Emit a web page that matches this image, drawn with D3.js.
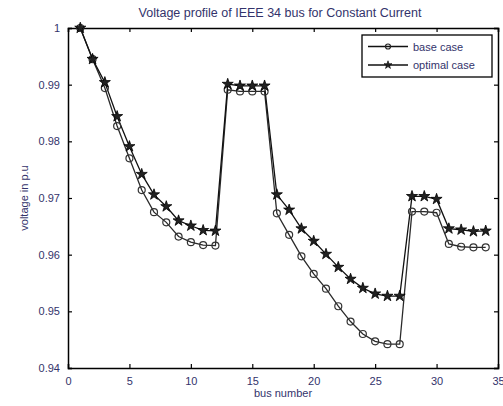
<!DOCTYPE html>
<html>
<head>
<meta charset="utf-8">
<script src="https://cdn.jsdelivr.net/npm/d3@7"></script>
<style>
  html, body { margin: 0; padding: 0; background: #fff; }
  svg { display: block; }
</style>
</head>
<body>
<div id="chart"></div>
<script>
// ---- data ----
const titleText = "Voltage profile of IEEE 34 bus for Constant Current";
const xLabel = "bus number";
const yLabel = "voltage in p.u";
const buses = d3.range(1, 35);
const baseCase = [
  1.0, 0.9945, 0.9894, 0.9827, 0.9770, 0.9714, 0.9675, 0.9657, 0.9632, 0.9622,
  0.9617, 0.9616, 0.9891, 0.9888, 0.9888, 0.9888, 0.9673, 0.9635, 0.9597, 0.9566,
  0.9540, 0.9509, 0.9482, 0.9460, 0.9447, 0.9442, 0.9442, 0.9676, 0.9676, 0.9674,
  0.9619, 0.9614, 0.9613, 0.9613
];
const optimalCase = [
  1.0, 0.9945, 0.9904, 0.9844, 0.9791, 0.9742, 0.9706, 0.9685, 0.9660, 0.9651,
  0.9643, 0.9642, 0.9901, 0.9898, 0.9898, 0.9898, 0.9706, 0.9679, 0.9646, 0.9624,
  0.9601, 0.9578, 0.9557, 0.9541, 0.9531, 0.9527, 0.9527, 0.9703, 0.9703, 0.9698,
  0.9646, 0.9644, 0.9641, 0.9642
];
const xTicks = [0, 5, 10, 15, 20, 25, 30, 35];
const yTicks = [0.94, 0.95, 0.96, 0.97, 0.98, 0.99, 1];
const seriesNames = ["base case", "optimal case"];

// ---- layout ----
const W = 503, H = 406;
const m = { left: 68, right: 5, top: 28, bottom: 38 };
const svg = d3.select("#chart").append("svg").attr("width", W).attr("height", H);
const x = d3.scaleLinear().domain([0, 35]).range([m.left, W - m.right]);
const y = d3.scaleLinear().domain([0.94, 1]).range([H - m.bottom, m.top]);
const textColor = "#33336b";
const font = "'Liberation Sans', Arial, sans-serif";

const tickLen = 4;
// axes
const xb = svg.append("g").attr("transform", `translate(0,${y(0.94)})`)
  .call(d3.axisBottom(x).tickValues(xTicks).tickSize(-tickLen).tickPadding(9).tickFormat(d3.format("d")));
const xt = svg.append("g").attr("transform", `translate(0,${y(1)})`)
  .call(d3.axisTop(x).tickValues(xTicks).tickSize(-tickLen).tickFormat(""));
const yl = svg.append("g").attr("transform", `translate(${x(0)},0)`)
  .call(d3.axisLeft(y).tickValues(yTicks).tickSize(-tickLen).tickPadding(8).tickFormat(d => d === 1 ? "1" : d3.format(".2f")(d)));
const yr = svg.append("g").attr("transform", `translate(${x(35)},0)`)
  .call(d3.axisRight(y).tickValues(yTicks).tickSize(-tickLen).tickFormat(""));
[xb, xt, yl, yr].forEach(g => {
  g.select(".domain").attr("stroke", "#000").attr("stroke-width", 1.5);
  g.selectAll(".tick line").attr("stroke", "#000").attr("stroke-width", 1.2);
  g.selectAll("text").attr("fill", textColor).style("font-family", font).style("font-size", "11px");
});

// title and labels
svg.append("text").attr("x", (x(0) + x(35)) / 2 - 3).attr("y", 17).attr("text-anchor", "middle")
  .attr("fill", textColor).style("font-family", font).style("font-size", "12.5px").text(titleText);
svg.append("text").attr("x", (x(0) + x(35)) / 2).attr("y", 397).attr("text-anchor", "middle")
  .attr("fill", textColor).style("font-family", font).style("font-size", "11px").text(xLabel);
svg.append("text").attr("transform", `translate(28,${(y(0.94) + y(1)) / 2}) rotate(-90)`)
  .attr("text-anchor", "middle").attr("fill", textColor)
  .style("font-family", font).style("font-size", "11px").text(yLabel);

// lines
const line = d3.line().x((d, i) => x(buses[i])).y(d => y(d));
svg.append("path").datum(baseCase).attr("d", line).attr("fill", "none")
  .attr("stroke", "#2a2a2a").attr("stroke-width", 1.3);
svg.append("path").datum(optimalCase).attr("d", line).attr("fill", "none")
  .attr("stroke", "#111").attr("stroke-width", 1.3);

// markers
svg.append("g").selectAll("circle").data(baseCase).join("circle")
  .attr("cx", (d, i) => x(buses[i])).attr("cy", d => y(d)).attr("r", 3.5)
  .attr("fill", "none").attr("stroke", "#333").attr("stroke-width", 1.2);
const star = d3.symbol().type(d3.symbolStar).size(38);
svg.append("g").selectAll("path").data(optimalCase).join("path")
  .attr("transform", (d, i) => `translate(${x(buses[i])},${y(d)})`).attr("d", star)
  .attr("fill", "#222").attr("stroke", "#000").attr("stroke-width", 0.8);

// legend
const lg = svg.append("g");
lg.append("rect").attr("x", 362).attr("y", 35).attr("width", 130).attr("height", 42)
  .attr("fill", "#fff").attr("stroke", "#000").attr("stroke-width", 1.3);
const rows = [46.5, 65];
seriesNames.forEach((name, i) => {
  lg.append("line").attr("x1", 368).attr("x2", 408).attr("y1", rows[i]).attr("y2", rows[i])
    .attr("stroke", "#111").attr("stroke-width", 1.3);
  if (i === 0) {
    lg.append("circle").attr("cx", 388).attr("cy", rows[i]).attr("r", 2.5)
      .attr("fill", "none").attr("stroke", "#222").attr("stroke-width", 1.2);
  } else {
    lg.append("path").attr("transform", `translate(388,${rows[i]})`)
      .attr("d", d3.symbol().type(d3.symbolStar).size(20)).attr("fill", "#222").attr("stroke", "#000").attr("stroke-width", 0.6);
  }
  lg.append("text").attr("x", 413).attr("y", rows[i] + 4).attr("fill", textColor)
    .style("font-family", font).style("font-size", "11px").text(name);
});
</script>
</body>
</html>
